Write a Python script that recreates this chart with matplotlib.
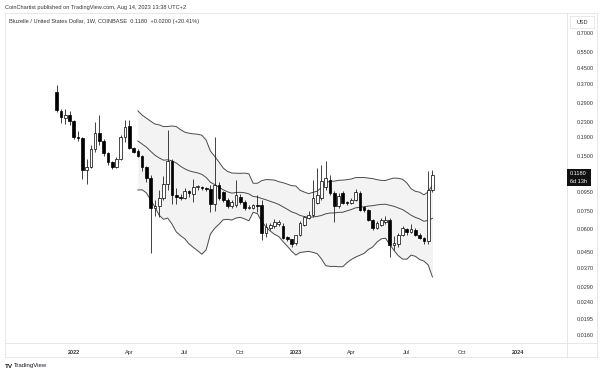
import numpy as np
import pandas as pd
import matplotlib
matplotlib.use("Agg")
import matplotlib.pyplot as plt
from matplotlib.patches import Rectangle

plt.rcParams["font.family"] = ["Liberation Sans", "DejaVu Sans"]

# BLZ/USD weekly candles (Coinbase)
opens = [0.333, 0.264, 0.240, 0.250, 0.232, 0.190, 0.187, 0.126, 0.130, 0.164,
         0.200, 0.180, 0.155, 0.138, 0.130, 0.145, 0.190, 0.217, 0.165, 0.160,
         0.150, 0.130, 0.114, 0.078, 0.080, 0.088, 0.106, 0.140, 0.092, 0.090,
         0.089, 0.097, 0.093, 0.101, 0.1015, 0.100, 0.099, 0.082, 0.104, 0.095,
         0.086, 0.080, 0.081, 0.090, 0.084, 0.0785, 0.0785, 0.081, 0.081, 0.0571,
         0.0605, 0.062, 0.0635, 0.0625, 0.0545, 0.0527, 0.0505, 0.0557, 0.0633, 0.069,
         0.0715, 0.0835, 0.0885, 0.102, 0.1108, 0.094, 0.0805, 0.094, 0.0835, 0.0831,
         0.0863, 0.094, 0.079, 0.0761, 0.0672, 0.061, 0.063, 0.0655, 0.0672, 0.049,
         0.050, 0.0557, 0.060, 0.058, 0.0595, 0.0557, 0.0536, 0.0515, 0.098]
highs = [0.364, 0.270, 0.270, 0.263, 0.236, 0.205, 0.190, 0.145, 0.172, 0.229,
         0.250, 0.185, 0.157, 0.140, 0.147, 0.195, 0.235, 0.236, 0.168, 0.163,
         0.152, 0.132, 0.118, 0.086, 0.098, 0.116, 0.207, 0.145, 0.100, 0.093,
         0.100, 0.098, 0.112, 0.104, 0.103, 0.102, 0.104, 0.190, 0.108, 0.097,
         0.088, 0.086, 0.111, 0.093, 0.086, 0.081, 0.082, 0.092, 0.086, 0.065,
         0.065, 0.068, 0.067, 0.065, 0.055, 0.053, 0.056, 0.066, 0.071, 0.075,
         0.111, 0.129, 0.134, 0.140, 0.118, 0.096, 0.094, 0.097, 0.085, 0.088,
         0.099, 0.096, 0.080, 0.077, 0.068, 0.066, 0.069, 0.071, 0.069, 0.055,
         0.057, 0.062, 0.061, 0.064, 0.061, 0.057, 0.054, 0.124, 0.126]
lows = [0.260, 0.225, 0.222, 0.220, 0.185, 0.180, 0.112, 0.106, 0.128, 0.158,
        0.172, 0.150, 0.134, 0.127, 0.128, 0.143, 0.178, 0.164, 0.155, 0.147,
        0.124, 0.108, 0.0445, 0.071, 0.070, 0.086, 0.098, 0.082, 0.082, 0.086,
        0.087, 0.090, 0.084, 0.098, 0.098, 0.097, 0.074, 0.075, 0.086, 0.084,
        0.078, 0.078, 0.079, 0.082, 0.076, 0.077, 0.077, 0.074, 0.0523, 0.054,
        0.059, 0.061, 0.062, 0.053, 0.0515, 0.048, 0.049, 0.055, 0.062, 0.068,
        0.070, 0.082, 0.086, 0.098, 0.092, 0.0655, 0.078, 0.082, 0.081, 0.082,
        0.085, 0.075, 0.074, 0.066, 0.059, 0.060, 0.062, 0.064, 0.0425, 0.046,
        0.048, 0.055, 0.056, 0.057, 0.055, 0.053, 0.050, 0.050, 0.095]
closes = [0.266, 0.243, 0.250, 0.232, 0.190, 0.187, 0.126, 0.130, 0.164, 0.200,
          0.180, 0.155, 0.138, 0.130, 0.144, 0.190, 0.215, 0.165, 0.157, 0.150,
          0.130, 0.114, 0.078, 0.080, 0.088, 0.106, 0.140, 0.092, 0.090, 0.089,
          0.097, 0.094, 0.102, 0.1015, 0.100, 0.099, 0.082, 0.104, 0.0885, 0.086,
          0.080, 0.084, 0.092, 0.084, 0.0785, 0.079, 0.081, 0.080, 0.0571, 0.0612,
          0.0631, 0.0655, 0.0655, 0.0536, 0.053, 0.0496, 0.0557, 0.0644, 0.0698, 0.0715,
          0.0885, 0.0919, 0.109, 0.113, 0.094, 0.0805, 0.0905, 0.0835, 0.0831, 0.0863,
          0.0957, 0.0761, 0.0761, 0.0672, 0.0606, 0.0645, 0.0672, 0.0672, 0.0491, 0.0505,
          0.0557, 0.0605, 0.058, 0.060, 0.0557, 0.0536, 0.0515, 0.098, 0.118]

price_ticks = [0.70, 0.55, 0.45, 0.37, 0.29, 0.23, 0.19, 0.15, 0.095, 0.075,
               0.060, 0.045, 0.037, 0.029, 0.024, 0.0195, 0.016]
time_ticks = ["2022-01-03", "2022-04-04", "2022-07-04", "2022-10-03", "2023-01-02",
              "2023-04-03", "2023-07-03", "2023-10-02", "2024-01-01"]
time_labels = ["2022", "Apr", "Jul", "Oct", "2023", "Apr", "Jul", "Oct", "2024"]

dates = pd.date_range("2021-12-06", periods=len(closes), freq="W-MON")
o = np.array(opens)
h = np.array(highs)
l = np.array(lows)
c = np.array(closes)

# bollinger bands 20, 2
s = pd.Series(c)
basis = s.rolling(20).mean()
dev = s.rolling(20).std(ddof=0)
upper = basis + 2 * dev
lower = basis - 2 * dev

W, H = 602, 375
fig = plt.figure(figsize=(W / 100, H / 100), dpi=100)
ax = fig.add_axes([5 / W, 1 - 343 / H, 562 / W, 330 / H])

ax.fill_between(dates, lower, upper, color="#f3f3f3", lw=0, zorder=1)
for band in (upper, basis, lower):
    ax.plot(dates, band, color="#4a4a4a", lw=0.7, zorder=2)

ax.vlines(dates, l, h, color="#222222", lw=0.6, zorder=3)
up = c >= o
body_lo = np.minimum(o, c)
body_h = np.maximum(np.abs(c - o), body_lo * 0.012)
ax.bar(dates, body_h, bottom=body_lo, width=4.4,
       color=np.where(up, "white", "black"), edgecolor="black", lw=0.5, zorder=4)

ax.set_yscale("log")
ax.set_ylim(0.01441, 0.8959)
d0 = dates[0]
ax.set_xlim(d0 - pd.Timedelta(days=84.8), d0 + pd.Timedelta(days=836.6))

ax.yaxis.tick_right()
ax.set_yticks(price_ticks)
ax.set_yticklabels([f"{v:.4f}" for v in price_ticks])
ax.yaxis.set_minor_locator(plt.NullLocator())
ax.tick_params(axis="y", length=0, pad=7, labelsize=4, labelcolor="#333333")

ax.set_xticks(pd.to_datetime(time_ticks))
ax.set_xticklabels(time_labels)
ax.tick_params(axis="x", length=0, pad=5, labelsize=4, labelcolor="#333333")
for lab in ax.get_xticklabels():
    if lab.get_text().isdigit():
        lab.set_fontweight("bold")
for sp in ax.spines.values():
    sp.set_visible(False)

# frame lines of the chart pane
def px_line(x0, y0, x1, y1):
    fig.add_artist(plt.Line2D([x0 / W, x1 / W], [1 - y0 / H, 1 - y1 / H],
                              color="#e3e3e3", lw=0.6))

px_line(5, 13, 597, 13)
px_line(5, 13, 5, 357)
px_line(597, 13, 597, 357)
px_line(5, 343, 597, 343)
px_line(5, 357, 597, 357)
px_line(567, 13, 567, 357)

fig.text(5 / W, 1 - 7 / H, "CoinChartist published on TradingView.com, Aug 14, 2023 13:38 UTC+2",
         fontsize=4.1, color="#333333", va="center")
fig.text(9 / W, 1 - 22 / H,
         "Bluzelle / United States Dollar, 1W, COINBASE  0.1180  +0.0200 (+20.41%)",
         fontsize=4.1, color="#333333", va="center")

# USD box
fig.add_artist(Rectangle((570 / W, 1 - 28 / H), 24 / W, 12 / H, facecolor="white",
                         edgecolor="#e0e0e0", lw=0.5, zorder=5))
fig.text(582 / W, 1 - 22 / H, "USD", fontsize=4, color="#333333",
         ha="center", va="center", zorder=6)

# last price tag
fig.add_artist(Rectangle((567 / W, 1 - 186 / H), 24 / W, 17 / H, facecolor="#111111",
                         edgecolor="none", zorder=5))
fig.text(570 / W, 1 - 173.5 / H, "0.1180", fontsize=4, color="white", va="center", zorder=6)
fig.text(570 / W, 1 - 181.5 / H, "6d 13h", fontsize=4, color="white", va="center", zorder=6)

fig.text(5 / W, 1 - 366 / H, "TV", fontsize=4.6, fontweight="bold", color="#131722", va="center")
fig.text(14 / W, 1 - 366 / H, "TradingView", fontsize=4.3, color="#131722", va="center")

fig.savefig("out.png", dpi=100, facecolor="white")
